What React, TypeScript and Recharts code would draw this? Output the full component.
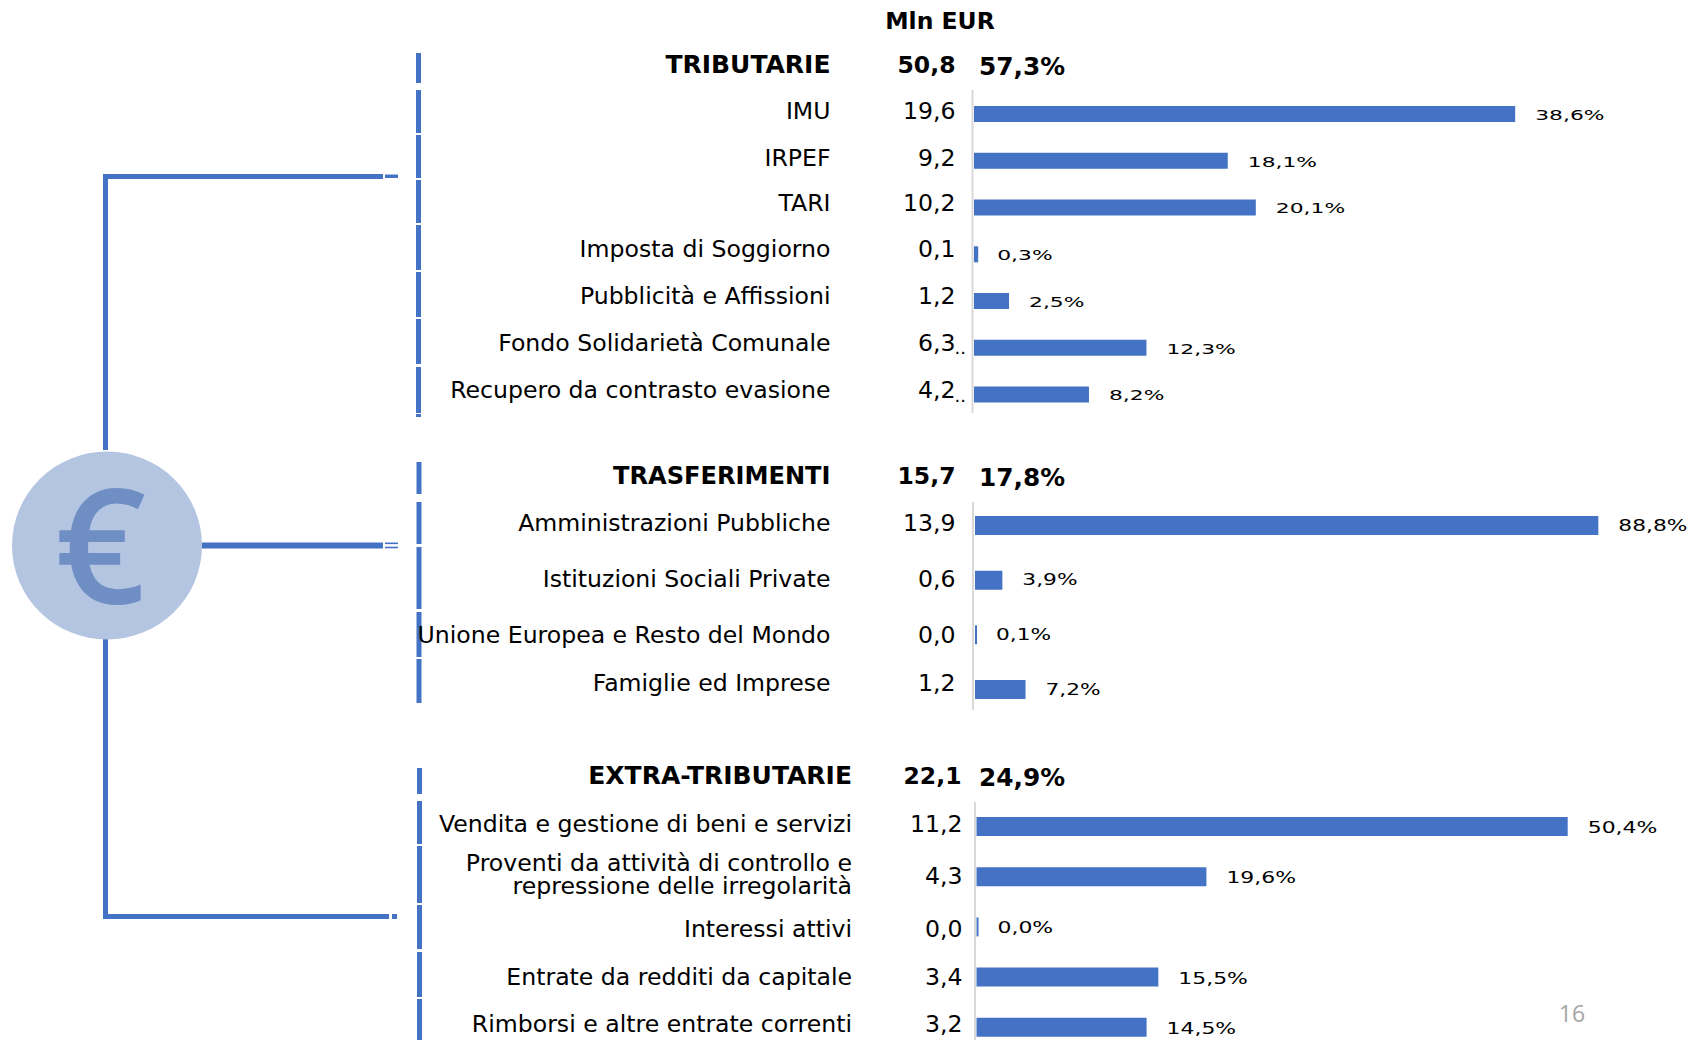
import React from 'react'
import { BarChart, Bar, XAxis, YAxis, LabelList } from 'recharts'

const FONT = '"DejaVu Sans", sans-serif'
const BLUE = '#4472c4'

// TRIBUTARIE
const tributarieNames = ['IMU', 'IRPEF', 'TARI', 'Imposta di Soggiorno', 'Pubblicità e Affissioni', 'Fondo Solidarietà Comunale', 'Recupero da contrasto evasione']
const tributarieMln = [19.6, 9.2, 10.2, 0.1, 1.2, 6.3, 4.2]
const tributarieShare = [38.6, 18.1, 20.1, 0.3, 2.5, 12.3, 8.2]
const tributarieCut = ['', '', '', '', '', '..', '..']

// TRASFERIMENTI
const trasferimentiNames = ['Amministrazioni Pubbliche', 'Istituzioni Sociali Private', 'Unione Europea e Resto del Mondo', 'Famiglie ed Imprese']
const trasferimentiMln = [13.9, 0.6, 0.0, 1.2]
const trasferimentiShare = [88.8, 3.9, 0.1, 7.2]

// EXTRA-TRIBUTARIE
const extraNames = ['Vendita e gestione di beni e servizi', 'Proventi da attività di controllo e\nrepressione delle irregolarità', 'Interessi attivi', 'Entrate da redditi da capitale', 'Rimborsi e altre entrate correnti']
const extraMln = [11.2, 4.3, 0.0, 3.4, 3.2]
const extraShare = [50.4, 19.6, 0.0, 15.5, 14.5]

const groupNames = ['TRIBUTARIE', 'TRASFERIMENTI', 'EXTRA-TRIBUTARIE']
const groupMln = [50.8, 15.7, 22.1]
const groupShare = [57.3, 17.8, 24.9]

// the row labels in the slide don't sit exactly on the bars
const tributarieShift = [-3, -3.5, -5, -5.5, -5.5, -5.5, -4.5]
const trasferimentiShift = [-2, -1, 0, -6]
const extraShift = [-2.5, 0, 2.5, 0, -2.5]

const comma = (v: number) => v.toFixed(1).replace('.', ',')

const toRows = (names: string[], mln: number[], share: number[]) =>
  names.map((name, i) => ({ name, mln: mln[i], share: share[i] }))

type PanelProps = {
  rows: { name: string; mln: number; share: number }[]
  top: number
  step: number
  axisX: number
  barX: number
  pxPerPct: number
  barSize: number
  labelRight: number
  valueRight: number
  shift: number[]
  cut?: string[]
  pctSize: number
  pctStretch: number
  pctDy: number
}

function Panel({ rows, top, step, axisX, barX, pxPerPct, barSize, labelRight, valueRight, shift, cut, pctSize, pctStretch, pctDy }: PanelProps) {
  const renderTick = (props: any) => {
    const { y, index } = props
    const row = rows[index]
    const lines = row.name.split('\n')
    const ty = y + shift[index]
    return (
      <g fontFamily={FONT} fontSize={23.6} fill="#000">
        {lines.map((line, i) => (
          <text
            key={line}
            x={labelRight}
            y={ty + (i - (lines.length - 1) / 2) * 22.6 - (lines.length > 1 ? 2 : 0)}
            textAnchor="end"
            dominantBaseline="central"
          >
            {line}
          </text>
        ))}
        <text x={valueRight} y={ty} textAnchor="end" dominantBaseline="central">
          {comma(row.mln)}
        </text>
        {cut && cut[index] ? (
          <text x={valueRight - 1} y={ty + 5} fontSize={18} dominantBaseline="central">
            {cut[index]}
          </text>
        ) : null}
      </g>
    )
  }

  const renderPct = (props: any) => {
    const { x, y, width, height, value } = props
    const gap = width < 6 ? 19 : 20
    return (
      <text
        transform={`translate(${x + width + gap},${y + height / 2 + pctDy}) scale(${pctStretch},1)`}
        fontFamily={FONT}
        fontSize={pctSize}
        fill="#000"
        dominantBaseline="central"
      >
        {comma(value)}%
      </text>
    )
  }

  return (
    <div style={{ position: 'absolute', left: 0, top }}>
      <BarChart
        layout="vertical"
        width={1691}
        height={step * rows.length}
        data={rows}
        margin={{ top: 0, right: 0, bottom: 0, left: 0 }}
      >
        <XAxis
          type="number"
          hide
          domain={[-(barX - axisX) / pxPerPct, (1691 - barX) / pxPerPct]}
          allowDataOverflow
        />
        <YAxis
          type="category"
          dataKey="name"
          width={axisX}
          interval={0}
          tickLine={false}
          axisLine={false}
          tick={renderTick}
        />
        <Bar dataKey="share" fill={BLUE} barSize={barSize} minPointSize={2} isAnimationActive={false}>
          <LabelList dataKey="share" content={renderPct} />
        </Bar>
      </BarChart>
    </div>
  )
}

// broken vertical rule left of the labels: [top, bottom] of each piece
const ruleOne = [[53, 83], [90, 133], [135, 178], [180, 223], [225, 270], [272, 317], [319, 364], [367, 413], [414, 417]]
const ruleTwo = [[462, 494], [502, 544], [547, 609], [612, 657], [659, 703]]
const ruleThree = [[768, 794], [801, 844], [846, 903], [905, 949], [952, 997], [999, 1040]]

function Backdrop() {
  const headers = [
    { y: 64.5, right: 830.5, value: 955.5, size: 25 },
    { y: 475.5, right: 830.5, value: 955.5, size: 24.1 },
    { y: 775.5, right: 852, value: 961.5, size: 25 },
  ]
  return (
    <svg width={1691} height={1040} style={{ position: 'absolute', left: 0, top: 0 }}>
      <g fill={BLUE}>
        <rect x={103} y={175} width={5} height={275} />
        <rect x={103} y={174} width={280} height={5} />
        <rect x={385} y={174.5} width={13} height={3.5} />
        <rect x={202} y={542.5} width={181} height={6} />
        <rect x={385} y={542.5} width={13} height={1.6} />
        <rect x={385} y={546.7} width={13} height={1.6} />
        <rect x={103} y={638} width={5} height={281} />
        <rect x={103} y={914} width={286} height={5} />
        <rect x={392} y={914} width={5} height={5} />
        {ruleOne.map(([a, b]) => <rect key={a} x={416} y={a} width={5} height={b - a} />)}
        {ruleTwo.map(([a, b]) => <rect key={a} x={416.5} y={a} width={5} height={b - a} />)}
        {ruleThree.map(([a, b]) => <rect key={a} x={417} y={a} width={5} height={b - a} />)}
      </g>
      <g fill="#d9d9d9">
        <rect x={971.5} y={90} width={2} height={323} />
        <rect x={972} y={502} width={2} height={208} />
        <rect x={974} y={802} width={2} height={238} />
      </g>
      <ellipse cx={107} cy={545.5} rx={95} ry={94} fill="#b4c5e2" />
      <text x={100.5} y={603} textAnchor="middle" fontFamily='"Open Sans", sans-serif' fontWeight={600} fontSize={160} fill="#6f8fc4">€</text>

      <g fontFamily={FONT} fontWeight="bold" fontSize={23.5} fill="#000">
        <text x={940} y={21} textAnchor="middle" dominantBaseline="central">Mln EUR</text>
        {headers.map((h, i) => (
          <g key={groupNames[i]}>
            <text x={h.right} y={h.y} fontSize={h.size} textAnchor="end" dominantBaseline="central">{groupNames[i]}</text>
            <text x={h.value} y={h.y} textAnchor="end" dominantBaseline="central">{comma(groupMln[i])}</text>
            <text x={979} y={h.y + 1.5} dominantBaseline="central" fontSize={24.8}>{comma(groupShare[i])}%</text>
          </g>
        ))}
      </g>
      <text x={1572} y={1013} textAnchor="middle" dominantBaseline="central" fontFamily='"Open Sans", sans-serif' fontSize={23} fill="#a6a6a6">16</text>
    </svg>
  )
}

export default function App() {
  return (
    <div style={{ position: 'absolute', left: 0, top: 0, width: 1691, height: 1040, overflow: 'hidden', background: '#fff' }}>
      <Backdrop />
      <Panel
        rows={toRows(tributarieNames, tributarieMln, tributarieShare)}
        top={91}
        step={46.75}
        axisX={972.5}
        barX={974}
        pxPerPct={14.02}
        barSize={16}
        labelRight={830.5}
        valueRight={955.5}
        shift={tributarieShift}
        cut={tributarieCut}
        pctSize={14}
        pctStretch={1.56}
        pctDy={1}
      />
      <Panel
        rows={toRows(trasferimentiNames, trasferimentiMln, trasferimentiShare)}
        top={497.7}
        step={54.67}
        axisX={973}
        barX={975}
        pxPerPct={7.02}
        barSize={19}
        labelRight={830.5}
        valueRight={955.5}
        shift={trasferimentiShift}
        pctSize={15}
        pctStretch={1.45}
        pctDy={0}
      />
      <Panel
        rows={toRows(extraNames, extraMln, extraShare)}
        top={800.9}
        step={50.2}
        axisX={975}
        barX={976.5}
        pxPerPct={11.73}
        barSize={19}
        labelRight={852}
        valueRight={962.5}
        shift={extraShift}
        pctSize={16}
        pctStretch={1.37}
        pctDy={1}
      />
    </div>
  )
}
